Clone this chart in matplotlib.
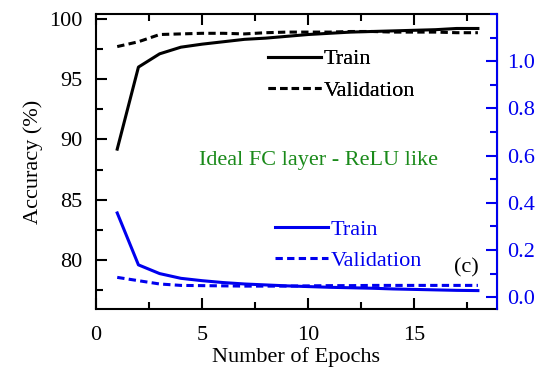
import matplotlib
matplotlib.use("Agg")
import matplotlib.pyplot as plt
from matplotlib.ticker import MultipleLocator
from matplotlib.lines import Line2D

plt.rcParams['font.family'] = ['Liberation Serif', 'DejaVu Serif']

epochs = list(range(1, 19))
acc_train = [89.2, 96.0, 97.1, 97.65, 97.9, 98.1, 98.3, 98.4, 98.55, 98.7,
             98.8, 98.9, 98.95, 99.0, 99.05, 99.1, 99.2, 99.2]
acc_val = [97.7, 98.1, 98.7, 98.75, 98.8, 98.8, 98.75, 98.85, 98.9, 98.9,
           98.9, 98.95, 98.95, 98.9, 98.9, 98.9, 98.85, 98.85]
loss_train = [0.357, 0.137, 0.10, 0.08, 0.07, 0.062, 0.056, 0.052, 0.048, 0.045,
              0.042, 0.040, 0.038, 0.035, 0.033, 0.031, 0.029, 0.028]
loss_val = [0.084, 0.07, 0.056, 0.05, 0.049, 0.048, 0.047, 0.047, 0.047, 0.048,
            0.049, 0.049, 0.050, 0.050, 0.050, 0.050, 0.050, 0.050]

BLUE = '#0000ee'
DASH = (0, (2.4, 1.4))
FS = 16

fig = plt.figure(figsize=(5.35, 3.68), dpi=100)
ax = fig.add_axes([96/535, 1 - 309/368, (497-96)/535, (309-14)/368])
ax2 = ax.twinx()

ax.plot(epochs, acc_train, color='black', lw=2.2)
ax.plot(epochs, acc_val, color='black', lw=2.2, ls=DASH)
ax2.plot(epochs, loss_train, color=BLUE, lw=2.2)
ax2.plot(epochs, loss_val, color=BLUE, lw=2.2, ls=DASH)

ax.set_xlim(0, 18.9)
ax.set_ylim(75.95, 100.4)
ax2.set_ylim(-0.05, 1.2)

ax.xaxis.set_major_locator(MultipleLocator(5))
ax.xaxis.set_minor_locator(MultipleLocator(2.5))
ax.yaxis.set_major_locator(MultipleLocator(5))
ax.yaxis.set_minor_locator(MultipleLocator(2.5))
ax2.set_yticks([0.0, 0.2, 0.4, 0.6, 0.8, 1.0])
ax2.set_yticklabels(['0.0', '0.2', '0.4', '0.6', '0.8', '1.0'])
ax2.yaxis.set_minor_locator(MultipleLocator(0.1))

ax.tick_params(axis='both', which='both', direction='in', labelsize=FS,
               top=True, right=False, width=1.5)
ax.tick_params(which='major', length=8)
ax.tick_params(which='minor', length=5)
ax.tick_params(axis='x', pad=12)
ax.tick_params(axis='y', pad=10)
ax2.tick_params(axis='y', which='both', direction='in', colors=BLUE,
                labelsize=FS, width=1.5, pad=7)
ax2.tick_params(which='major', length=8)
ax2.tick_params(which='minor', length=5)

for sp in ['left', 'bottom', 'top']:
    ax.spines[sp].set_linewidth(1.5)
ax2.spines['right'].set_color(BLUE)
ax2.spines['right'].set_linewidth(1.5)
ax2.spines['left'].set_visible(False)
ax2.spines['top'].set_visible(False)
ax2.spines['bottom'].set_visible(False)

ax.set_xlabel('Number of Epochs', fontsize=FS, labelpad=2)
ax.set_ylabel('Accuracy (%)', fontsize=FS, labelpad=4)

leg_kw = dict(loc='upper left', frameon=False, fontsize=FS,
              handlelength=2.4, handletextpad=0.1, labelspacing=0.5,
              borderaxespad=0, borderpad=0)

h_black = [Line2D([], [], color='black', lw=2.2),
           Line2D([], [], color='black', lw=2.2, ls=DASH)]
leg1 = ax.legend(h_black, ['Train', 'Validation'],
                 bbox_to_anchor=(0.429, 0.882), **leg_kw)
ax.add_artist(leg1)

h_blue = [Line2D([], [], color=BLUE, lw=2.2),
          Line2D([], [], color=BLUE, lw=2.2, ls=DASH)]
leg2 = ax2.legend(h_blue, ['Train', 'Validation'],
                  bbox_to_anchor=(0.446, 0.305), **leg_kw)
for t in leg2.get_texts():
    t.set_color(BLUE)

ax.text(0.554, 0.502, 'Ideal FC layer - ReLU like', transform=ax.transAxes,
        color='#1a8a1a', fontsize=FS, ha='center', va='center')
ax.text(0.924, 0.14, '(c)', transform=ax.transAxes, fontsize=FS,
        ha='center', va='center')

fig.savefig('out.png', dpi=100)
